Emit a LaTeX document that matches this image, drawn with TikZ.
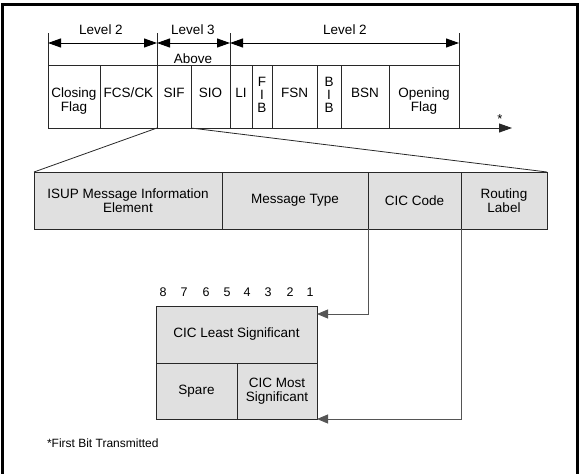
\documentclass[tikz,border=0pt]{standalone}
\usepackage{fontspec}
\setmainfont{Liberation Sans}
\usetikzlibrary{arrows.meta,calc}
\definecolor{cellgray}{RGB}{224,224,224}
\definecolor{darkline}{RGB}{40,40,40}
\definecolor{connline}{RGB}{85,85,85}
\begin{document}
\begin{tikzpicture}[x=1pt,y=-1pt,
  every node/.style={font=\fontsize{13.5}{14.5}\selectfont, inner sep=0pt, outer sep=0pt, align=center},
  topcell/.style={draw=darkline, line width=0.9pt, minimum height=63pt},
  bigcell/.style={draw=darkline, fill=cellgray, line width=0.9pt, minimum height=57pt},
  bitcell/.style={draw=darkline, fill=cellgray, line width=0.9pt},
  plain/.style={draw=darkline, line width=0.9pt},
  lvl/.style={draw=black, line width=1pt, {Triangle[length=13pt,width=9pt]}-{Triangle[length=13pt,width=9pt]}},
  axis/.style={draw=darkline, line width=0.9pt, -{Triangle[length=13pt,width=9pt]}},
  conn/.style={draw=connline, line width=0.9pt, -{Triangle[length=11pt,width=9pt]}},
  bitnum/.style={font=\fontsize{12.5}{13}\selectfont},
  note/.style={font=\fontsize{12}{13}\selectfont, anchor=west}
]
\useasboundingbox (0,0) rectangle (579,474);
% outer frame (bottom edge lies outside the picture)
\draw[line width=3pt, black] (2,480) -- (2,4.5) -- (577.5,4.5) -- (577.5,480);

% ---- top signal unit bar ----
\node[topcell, minimum width=52pt] (closing) at (74,96.5) {};
\node[topcell, minimum width=57pt] (fcs) at (128.5,96.5) {};
\node[topcell, minimum width=34pt] (sif) at (174,96.5) {};
\node[topcell, minimum width=39pt] (sio) at (210.5,96.5) {};
\node[topcell, minimum width=22pt] (li) at (241,96.5) {};
\node[topcell, minimum width=20pt] (fib) at (262,96.5) {};
\node[topcell, minimum width=45pt] (fsn) at (294.5,96.5) {};
\node[topcell, minimum width=24pt] (bib) at (329,96.5) {};
\node[topcell, minimum width=48pt] (bsn) at (365,96.5) {};
\node[topcell, minimum width=70pt] (opening) at (424,96.5) {};

\node (tclosing) at ($(closing.center)+(0,4.5)$) {Closing\\Flag};
\node (tfcs) at ($(fcs.center)+(0,-3.5)$) {FCS/CK};
\node (tsif) at ($(sif.center)+(0,-3.5)$) {SIF};
\node (tsio) at ($(sio.center)+(0,-3.5)$) {SIO};
\node (tli) at ($(li.center)+(0,-3.5)$) {LI};
\node[font=\fontsize{13.5}{13}\selectfont] (tfib) at ($(fib.center)+(0,-1.5)$) {F\\I\\B};
\node (tfsn) at ($(fsn.center)+(0,-3.5)$) {FSN};
\node[font=\fontsize{13.5}{13}\selectfont] (tbib) at ($(bib.center)+(0,-1.5)$) {B\\I\\B};
\node (tbsn) at ($(bsn.center)+(0,-3.5)$) {BSN};
\node (topening) at ($(opening.center)+(0,4.5)$) {Opening\\Flag};

% transmission axis
\coordinate (axisend) at (512,128);
\draw[axis] (closing.south west) -- (axisend);
\node[font=\fontsize{13}{13}\selectfont] (star) at (500,119) {*};

% level ticks
\coordinate (k1) at (48,33);
\coordinate (k2) at (157,33);
\coordinate (k3) at (230,33);
\coordinate (k4) at (459,33);
\draw[plain] (k1) -- (closing.north west);
\draw[plain] (k2) -- (sif.north west);
\draw[plain] (k3) -- (li.north west);
\draw[plain] (k4) -- (opening.north east);

% level arrows
\coordinate (a1) at (48,43);
\coordinate (a2) at (157,43);
\coordinate (a3) at (230,43);
\coordinate (a4) at (459,43);
\draw[lvl] (a1) -- (a2);
\draw[lvl] (a2) -- (a3);
\draw[lvl] (a3) -- (a4);
\node (lv2a) at (101,30) {Level 2};
\node (lv3) at (193,30) {Level 3};
\node (above) at (193,59) {Above};
\node (lv2b) at (345,30) {Level 2};

% ---- SIF expansion ----
\node[bigcell, minimum width=188pt] (isup) at (128,200.5) {ISUP Message Information\\Element};
\node[bigcell, minimum width=146pt] (mtype) at (295,200.5) {Message Type};
\node[bigcell, minimum width=93pt] (cic) at (414.5,200.5) {CIC Code};
\node[bigcell, minimum width=86pt] (routing) at (504,200.5) {Routing\\Label};

\draw[plain, line width=0.8pt] (sif.south west) -- (isup.north west);
\draw[plain, line width=0.8pt] (sio.south west) -- (routing.north east);

% ---- CIC octets ----
\node[bitcell, minimum width=161pt, minimum height=57pt] (least) at (236.5,334.5) {CIC Least Significant};
\node[bitcell, minimum width=81pt, minimum height=56pt] (spare) at (196.5,391) {Spare};
\node[bitcell, minimum width=80pt, minimum height=56pt] (most) at (277,391) {CIC Most\\Significant};

\node[bitnum] (b8) at (163,292) {8};
\node[bitnum] (b7) at (184,292) {7};
\node[bitnum] (b6) at (206,292) {6};
\node[bitnum] (b5) at (227,292) {5};
\node[bitnum] (b4) at (247,292) {4};
\node[bitnum] (b3) at (268,292) {3};
\node[bitnum] (b2) at (290,292) {2};
\node[bitnum] (b1) at (310,292) {1};

% connectors
\draw[conn] (cic.south west) |- ($(least.north east)+(0,8)$);
\draw[conn] (routing.south west) |- (most.south east);

\node[note] (footnote) at (47,443) {*First Bit Transmitted};
\end{tikzpicture}
\end{document}
